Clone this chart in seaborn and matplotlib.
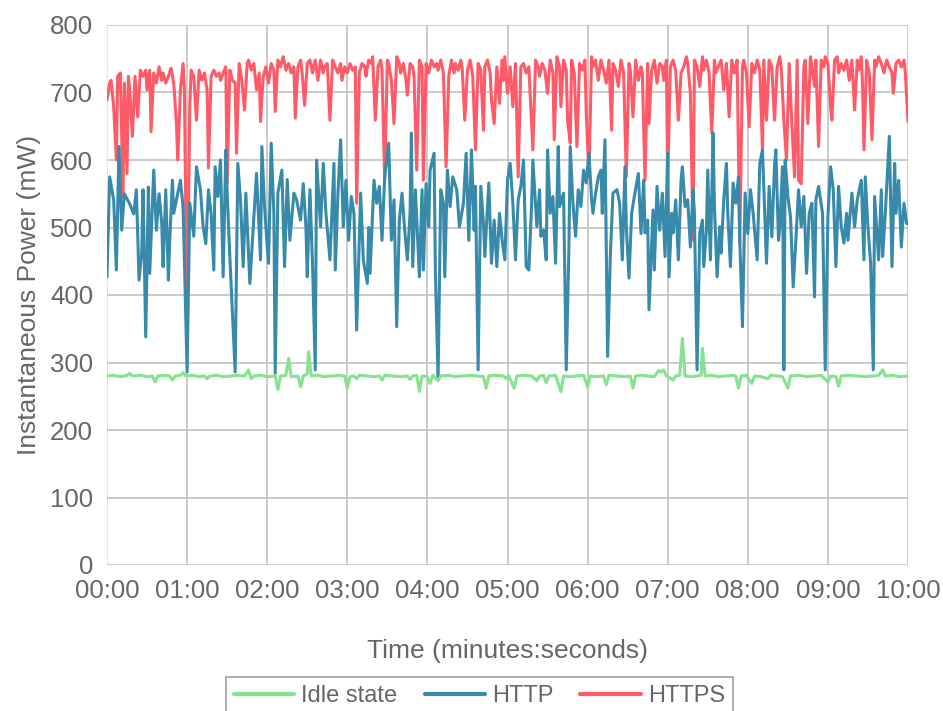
import matplotlib
matplotlib.use("Agg")
import matplotlib.pyplot as plt
import seaborn as sns
import pandas as pd
from matplotlib.lines import Line2D
from matplotlib.ticker import FuncFormatter

# ---------------- data (time in seconds, power in mW) ----------------
series_names = ["Idle state", "HTTP", "HTTPS"]
series_colors = ["#86e28f", "#378aa9", "#ff5a67"]
x_tick_seconds = list(range(0, 601, 60))
y_ticks = list(range(0, 801, 100))

idle_points = [
    (0, 280), (5, 281), (10, 279), (15, 281), (17, 284), (19, 280), (25, 281), (30, 279), (34, 280), (36, 271),
    (38, 280), (44, 281), (47, 280), (49, 274), (51, 280), (55, 281), (57, 285), (59, 280), (64, 281), (70, 279),
    (73, 280), (75, 276), (77, 280), (82, 281), (88, 279), (93, 280), (98, 281), (103, 280), (106, 289), (108, 276),
    (110, 280), (115, 281), (120, 279), (126, 280), (128, 260), (130, 280), (134, 281), (136, 306), (138, 279), (143, 280),
    (145, 264), (147, 280), (150, 283), (151, 316), (153, 280), (158, 281), (163, 279), (168, 280), (174, 281), (178, 280),
    (180, 262), (182, 279), (185, 280), (187, 276), (189, 281), (195, 280), (200, 279), (204, 280), (206, 274), (208, 281),
    (214, 280), (220, 279), (225, 280), (227, 275), (229, 280), (232, 281), (234, 257), (236, 280), (240, 279), (242, 269),
    (244, 281), (248, 273), (250, 280), (256, 281), (260, 279), (266, 280), (272, 281), (277, 280), (282, 279), (284, 262),
    (286, 280), (290, 281), (297, 280), (299, 276), (301, 280), (305, 262), (307, 280), (312, 281), (318, 280), (322, 273),
    (324, 280), (327, 281), (329, 270), (331, 280), (336, 281), (340, 257), (342, 280), (346, 279), (352, 280), (357, 281),
    (360, 264), (362, 280), (367, 279), (372, 280), (374, 267), (376, 281), (382, 280), (388, 279), (392, 280), (394, 262),
    (396, 280), (400, 281), (405, 280), (410, 279), (413, 288), (415, 286), (417, 289), (419, 280), (424, 274), (426, 280),
    (429, 281), (431, 336), (433, 280), (438, 279), (442, 280), (445, 281), (446, 321), (448, 280), (453, 281), (458, 279),
    (463, 280), (468, 281), (471, 280), (473, 262), (475, 280), (479, 281), (483, 269), (485, 280), (490, 279), (495, 276),
    (497, 281), (502, 280), (506, 279), (510, 262), (512, 280), (518, 281), (524, 279), (530, 280), (535, 281), (540, 271),
    (542, 280), (546, 279), (548, 265), (550, 280), (556, 281), (562, 280), (568, 279), (574, 280), (578, 281), (581, 289),
    (583, 280), (588, 281), (594, 279), (600, 280),
]

http_points = [
    (0, 427), (2, 575), (5, 541), (7, 437), (9, 620), (11, 496), (13, 550), (17, 535), (20, 520), (22, 556),
    (24, 422), (26, 462), (27, 556), (29, 338), (31, 560), (32, 432), (35, 585), (37, 496), (39, 550), (41, 506),
    (42, 442), (44, 556), (46, 422), (47, 481), (49, 570), (50, 521), (52, 541), (55, 570), (57, 531), (60, 286),
    (62, 536), (65, 487), (67, 590), (70, 556), (72, 501), (74, 476), (76, 556), (78, 520), (80, 437), (81, 590),
    (83, 546), (85, 600), (87, 427), (89, 615), (90, 551), (92, 457), (96, 286), (98, 595), (100, 541), (102, 442),
    (104, 551), (107, 417), (110, 516), (112, 580), (115, 452), (116, 620), (118, 531), (120, 472), (121, 447), (123, 625),
    (125, 521), (126, 284), (128, 551), (131, 585), (133, 442), (135, 571), (137, 481), (140, 551), (142, 541), (145, 511),
    (147, 565), (149, 501), (150, 427), (152, 556), (154, 442), (156, 289), (157, 600), (160, 501), (162, 595), (164, 521),
    (167, 452), (170, 595), (171, 437), (173, 551), (175, 630), (177, 501), (179, 570), (181, 481), (183, 546), (185, 521),
    (187, 348), (190, 551), (192, 452), (195, 417), (196, 500), (197, 432), (200, 570), (202, 536), (204, 561), (206, 481),
    (208, 575), (211, 625), (213, 481), (215, 541), (217, 353), (219, 511), (221, 551), (223, 496), (225, 452), (227, 521),
    (228, 640), (229, 442), (231, 556), (234, 427), (236, 556), (237, 437), (239, 565), (241, 501), (242, 585), (245, 610),
    (246, 432), (248, 274), (250, 556), (252, 536), (253, 427), (255, 585), (257, 531), (259, 575), (262, 556), (264, 501),
    (267, 536), (269, 610), (271, 481), (273, 615), (275, 496), (276, 561), (278, 289), (280, 561), (282, 506), (283, 457),
    (286, 566), (288, 447), (290, 511), (292, 442), (294, 521), (296, 481), (298, 452), (300, 570), (302, 595), (304, 536),
    (306, 452), (308, 541), (310, 561), (312, 600), (314, 442), (316, 437), (318, 531), (319, 600), (322, 501), (324, 556),
    (325, 487), (327, 496), (329, 452), (330, 615), (332, 521), (334, 546), (336, 447), (338, 620), (339, 531), (342, 551),
    (344, 289), (346, 471), (347, 620), (349, 536), (351, 487), (353, 556), (355, 531), (357, 585), (359, 566), (361, 610),
    (363, 541), (364, 521), (366, 551), (368, 575), (370, 585), (371, 521), (373, 630), (375, 309), (377, 457), (379, 551),
    (382, 556), (384, 536), (386, 452), (388, 590), (389, 501), (391, 425), (393, 521), (395, 546), (398, 580), (400, 491),
    (402, 570), (403, 492), (405, 511), (406, 378), (409, 526), (410, 437), (412, 561), (414, 496), (416, 551), (418, 457),
    (420, 610), (421, 427), (423, 521), (424, 492), (426, 541), (428, 452), (430, 570), (431, 590), (433, 531), (435, 541),
    (437, 471), (439, 556), (440, 521), (442, 289), (444, 492), (446, 511), (447, 442), (449, 496), (450, 585), (452, 452),
    (454, 640), (455, 531), (457, 427), (459, 501), (460, 462), (462, 541), (464, 595), (465, 521), (467, 442), (469, 566),
    (471, 536), (473, 575), (474, 481), (476, 353), (478, 551), (480, 491), (482, 556), (484, 521), (487, 452), (489, 595),
    (491, 615), (494, 447), (496, 561), (498, 486), (500, 590), (501, 615), (503, 481), (504, 501), (506, 590), (507, 289),
    (508, 600), (510, 546), (512, 516), (514, 412), (516, 481), (518, 556), (520, 501), (522, 546), (524, 432), (526, 521),
    (528, 536), (530, 397), (531, 541), (533, 561), (536, 521), (538, 289), (540, 516), (542, 590), (544, 556), (546, 442),
    (548, 561), (550, 501), (552, 477), (554, 521), (555, 481), (558, 551), (560, 501), (562, 541), (565, 570), (567, 452),
    (568, 575), (570, 501), (572, 447), (574, 289), (575, 546), (578, 452), (580, 556), (581, 457), (583, 521), (586, 635),
    (588, 442), (590, 595), (591, 521), (593, 570), (595, 471), (597, 536), (599, 506), (600, 505),
]

https_points = [
    (0, 689), (2, 714), (3, 718), (5, 679), (7, 600), (8, 724), (10, 729), (12, 546), (13, 714), (15, 580),
    (16, 724), (17, 704), (19, 635), (21, 724), (23, 664), (25, 733), (27, 724), (29, 733), (30, 704), (32, 733),
    (33, 642), (35, 729), (37, 714), (39, 738), (41, 718), (42, 729), (44, 714), (46, 724), (48, 736), (50, 714),
    (52, 654), (53, 600), (55, 704), (57, 743), (58, 704), (60, 352), (62, 679), (63, 733), (65, 724), (67, 659),
    (69, 733), (71, 718), (73, 729), (75, 704), (76, 588), (78, 724), (80, 733), (82, 724), (84, 729), (85, 718),
    (87, 729), (89, 738), (90, 566), (92, 733), (94, 718), (96, 714), (97, 610), (99, 743), (101, 718), (103, 674),
    (105, 743), (106, 748), (108, 733), (110, 743), (112, 704), (114, 729), (115, 657), (117, 724), (119, 738), (121, 714),
    (123, 743), (125, 733), (126, 672), (128, 748), (130, 738), (132, 753), (134, 733), (136, 743), (138, 729), (140, 738),
    (141, 662), (143, 738), (145, 748), (146, 733), (148, 681), (150, 743), (152, 748), (154, 729), (156, 748), (158, 718),
    (160, 748), (162, 729), (163, 738), (165, 743), (167, 659), (169, 748), (171, 738), (173, 729), (175, 743), (176, 718),
    (178, 738), (180, 729), (182, 743), (184, 733), (186, 738), (187, 536), (189, 729), (191, 743), (193, 738), (194, 724),
    (196, 748), (198, 743), (199, 753), (201, 659), (203, 738), (205, 748), (206, 733), (208, 570), (210, 748), (211, 743),
    (213, 718), (215, 654), (217, 753), (219, 743), (220, 729), (222, 743), (224, 718), (225, 696), (227, 743), (229, 738),
    (230, 724), (232, 585), (234, 748), (236, 738), (237, 570), (239, 743), (241, 729), (243, 748), (245, 738), (247, 743),
    (248, 733), (250, 748), (252, 729), (254, 590), (256, 724), (258, 748), (260, 729), (261, 743), (263, 733), (265, 748),
    (266, 738), (268, 659), (270, 733), (272, 748), (274, 724), (276, 615), (278, 743), (280, 733), (282, 644), (283, 738),
    (285, 748), (287, 729), (288, 689), (290, 654), (292, 738), (294, 684), (296, 748), (297, 718), (298, 753), (300, 699),
    (302, 738), (304, 679), (306, 743), (308, 575), (310, 738), (312, 743), (314, 729), (316, 738), (319, 615), (321, 748),
    (323, 738), (324, 724), (326, 743), (328, 733), (330, 699), (332, 748), (334, 729), (335, 630), (337, 753), (339, 738),
    (340, 679), (342, 748), (344, 733), (345, 659), (347, 625), (348, 748), (350, 729), (352, 620), (354, 743), (356, 733),
    (358, 748), (359, 669), (361, 575), (363, 753), (364, 738), (366, 748), (368, 718), (370, 748), (372, 733), (374, 714),
    (376, 748), (378, 644), (379, 743), (381, 733), (383, 709), (385, 748), (387, 729), (389, 575), (391, 743), (392, 733),
    (394, 664), (396, 748), (398, 718), (400, 738), (401, 729), (403, 570), (405, 743), (406, 654), (408, 733), (410, 748),
    (412, 714), (414, 743), (416, 738), (417, 718), (419, 748), (420, 570), (422, 738), (424, 748), (426, 733), (428, 659),
    (430, 729), (432, 738), (434, 753), (435, 743), (437, 699), (439, 481), (440, 748), (442, 738), (444, 709), (446, 753),
    (447, 733), (449, 748), (451, 729), (453, 640), (455, 748), (456, 729), (459, 743), (460, 748), (462, 704), (464, 743),
    (466, 664), (468, 748), (470, 729), (472, 748), (474, 476), (476, 738), (477, 748), (479, 729), (481, 649), (483, 743),
    (485, 729), (487, 748), (489, 733), (491, 615), (492, 748), (494, 659), (496, 748), (498, 738), (500, 659), (502, 738),
    (504, 753), (505, 738), (507, 659), (509, 600), (511, 743), (513, 654), (515, 575), (517, 748), (518, 570), (520, 565),
    (522, 738), (523, 748), (525, 654), (527, 753), (528, 738), (530, 709), (531, 748), (533, 620), (535, 748), (537, 738),
    (538, 753), (540, 743), (542, 679), (543, 659), (545, 748), (547, 753), (548, 729), (550, 743), (552, 733), (554, 748),
    (556, 718), (558, 748), (560, 674), (562, 748), (563, 733), (565, 753), (566, 709), (567, 615), (569, 748), (571, 729),
    (573, 630), (575, 748), (576, 738), (578, 753), (580, 743), (582, 729), (584, 748), (586, 738), (588, 729), (589, 699),
    (591, 743), (593, 748), (595, 738), (597, 748), (598, 729), (600, 657),
]

# ---------------- figure ----------------
sns.set_theme(style="white")
plt.rcParams["font.family"] = ["Liberation Sans", "DejaVu Sans"]

W, H = 943, 711
fig = plt.figure(figsize=(W / 100, H / 100), dpi=100)
ax = fig.add_axes([107 / W, 1 - 565 / H, 801 / W, 540 / H])

all_data = [idle_points, http_points, https_points]
# draw in reverse order so that the first dataset ends up on top
for name, pts, color in reversed(list(zip(series_names, all_data, series_colors))):
    df = pd.DataFrame(pts, columns=["t", "mw"])
    sns.lineplot(data=df, x="t", y="mw", ax=ax, color=color, linewidth=2.2,
                 estimator=None, sort=False, legend=False)

ax.set_xlim(0, 600)
ax.set_ylim(0, 800)
ax.set_xticks(x_tick_seconds)
ax.xaxis.set_major_formatter(FuncFormatter(lambda v, p: f"{int(v) // 60:02d}:{int(v) % 60:02d}"))
ax.set_yticks(y_ticks)

for s in ax.spines.values():
    s.set_visible(False)
ax.grid(True, color="#bdbdbd", linewidth=1.1)
ax.set_axisbelow(True)
ax.get_xgridlines()[0].set_color("#dedede")
ax.tick_params(axis="both", length=6, width=1.1, color="#bdbdbd",
               labelsize=18.5, labelcolor="#666666", pad=4)

ax.set_xlabel("Time (minutes:seconds)", fontsize=19, color="#666666", labelpad=26)
ax.set_ylabel("Instantaneous Power (mW)", fontsize=19, color="#666666", labelpad=6.5)

handles = [Line2D([0], [0], color=c, linewidth=3) for c in series_colors]
leg = fig.legend(handles, series_names, loc="upper center",
                 bbox_to_anchor=(479.5 / W, 1 - 677 / H), ncol=3, fontsize=17,
                 handlelength=2.55, handletextpad=0.3, columnspacing=1.15,
                 borderpad=0.35, borderaxespad=0.0, frameon=True, fancybox=False,
                 edgecolor="#888888", labelcolor="#666666")
leg.get_frame().set_linewidth(1.2)

fig.savefig("out.png", dpi=100)
